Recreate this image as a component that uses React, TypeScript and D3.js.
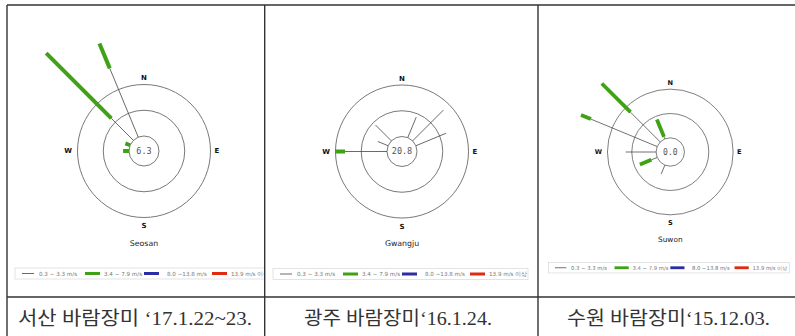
import React from 'react';
import * as d3 from 'd3';

// 16 compass sectors, clockwise from north
const directions = ['N', 'NNE', 'NE', 'ENE', 'E', 'ESE', 'SE', 'SSE', 'S', 'SSW', 'SW', 'WSW', 'W', 'WNW', 'NW', 'NNW'];

// Wind speed classes shown in the legend
const speedClasses = ['0.3 ~ 3.3 m/s', '3.4 ~ 7.9 m/s', '8.0 ~13.8 m/s', '13.9 m/s 이상'];
const classColors = ['#444444', '#3fa214', '#2c2ca6', '#e02a12'];

// Frequency (%) per direction, 0.3~3.3 m/s class
const seosanLow = [0, 0, 0, 0, 0, 0, 0, 0, 0, 0, 0, 0, 0, 0, 12.1, 28.9];
// Frequency (%) per direction, 3.4~7.9 m/s class
const seosanMid = [0, 0, 0, 0, 0, 0, 0, 0, 0, 0, 0, 0, 2.3, 2.0, 35.8, 10.5];
const seosanCalm = 6.3;

const gwangjuLow = [0, 8.6, 16.9, 12.7, 0, 0, 0, 0, 0, 0, 0, 0, 16.3, 4.3, 8.7, 0];
const gwangjuMid = [0, 0, 0, 0, 0, 0, 0, 0, 0, 0, 0, 0, 3.9, 0, 0, 0];
const gwangjuCalm = 20.8;

const suwonLow = [0, 0, 0, 0, 0, 0, 0, 0, 0, 4.0, 0, 2.6, 12.5, 29.5, 17.3, 0.9];
const suwonMid = [0, 0, 0, 0, 0, 0, 0, 0, 0, 0, 0, 5.1, 0, 4.4, 16.7, 7.7];
const suwonCalm = 0.0;

const stationNames = ['Seosan', 'Gwangju', 'Suwon'];
const captions = ['서산 바람장미 ‘17.1.22~23.', '광주 바람장미‘16.1.24.', '수원 바람장미‘15.12.03.'];

// Percent -> radius (calm circle at 15, rings every 10 %)
const rScale = d3.scaleLinear().domain([0, 20]).range([15, 66.5]);
const ringValues = [10, 20];

const W = 795;
const H = 336;

type Rose = {
  name: string;
  low: number[];
  mid: number[];
  calm: number;
  cx: number;
  cy: number;
  k: number;
  clipX0: number;
  clipX1: number;
};

const roses: Rose[] = [
  { name: stationNames[0], low: seosanLow, mid: seosanMid, calm: seosanCalm, cx: 144, cy: 151, k: 1, clipX0: 8, clipX1: 264 },
  { name: stationNames[1], low: gwangjuLow, mid: gwangjuMid, calm: gwangjuCalm, cx: 402, cy: 151.5, k: 1, clipX0: 265.5, clipX1: 537 },
  { name: stationNames[2], low: suwonLow, mid: suwonMid, calm: suwonCalm, cx: 670.3, cy: 152, k: 0.945, clipX0: 539, clipX1: 795 },
];

const angleOf = (i: number) => (i * 22.5 * Math.PI) / 180;
const px = (i: number, r: number) => r * Math.sin(angleOf(i));
const py = (i: number, r: number) => -r * Math.cos(angleOf(i));

function Legend() {
  const x0 = -129;
  const y0 = 117;
  const swatchX = [7, 70, 129, 197];
  const textX = [24, 89, 152, 216];
  return (
    <g>
      <rect x={x0} y={y0} width={255} height={11} fill="#fff" stroke="#d0d0d0" strokeWidth={0.6} />
      {speedClasses.map((label, i) => (
        <g key={label}>
          {i === 0 ? (
            <line x1={x0 + swatchX[i]} x2={x0 + swatchX[i] + 12} y1={y0 + 5.5} y2={y0 + 5.5} stroke={classColors[i]} strokeWidth={0.8} />
          ) : (
            <rect x={x0 + swatchX[i]} y={y0 + 4} width={15} height={3} fill={classColors[i]} />
          )}
          <text x={x0 + textX[i]} y={y0 + 7.5} fontSize={5.6} fill="#777" fontFamily="'DejaVu Sans', sans-serif">
            {label}
          </text>
        </g>
      ))}
    </g>
  );
}

function WindRose({ rose }: { rose: Rose }) {
  const r0 = rScale(0);
  return (
    <g transform={`translate(${rose.cx},${rose.cy}) scale(${rose.k})`}>
      <circle r={r0} fill="none" stroke="#555" strokeWidth={0.8} />
      {ringValues.map((v) => (
        <circle key={v} r={rScale(v)} fill="none" stroke="#555" strokeWidth={0.8} />
      ))}
      {directions.map((d, i) => {
        const lo = rose.low[i];
        const mi = rose.mid[i];
        const rLo = rScale(lo);
        const rMid = rScale(lo + mi);
        return (
          <g key={d}>
            {lo > 0 && (
              <line x1={px(i, r0)} y1={py(i, r0)} x2={px(i, rLo)} y2={py(i, rLo)} stroke={classColors[0]} strokeWidth={0.8} />
            )}
            {mi > 0 && (
              <line x1={px(i, rLo)} y1={py(i, rLo)} x2={px(i, rMid)} y2={py(i, rMid)} stroke={classColors[1]} strokeWidth={4} />
            )}
          </g>
        );
      })}
      <text x={0} y={0} dy="0.35em" textAnchor="middle" fontSize={8.5} fill="#555" fontFamily="'DejaVu Sans Mono', monospace">
        {rose.calm.toFixed(1)}
      </text>
      <g fontFamily="'DejaVu Sans', sans-serif" fontWeight="bold" fontSize={7} fill="#111" textAnchor="middle">
        <text x={0} y={-73} dy="0.35em">N</text>
        <text x={0} y={75} dy="0.35em">S</text>
        <text x={-76} y={0} dy="0.35em">W</text>
        <text x={73} y={0} dy="0.35em">E</text>
      </g>
      <text x={0} y={92} dy="0.35em" textAnchor="middle" fontSize={7.8} fill="#222" fontFamily="'DejaVu Sans', sans-serif">
        {rose.name}
      </text>
      <Legend />
    </g>
  );
}

const captionCenters = [135, 398, 668.5];
const captionWidths = [234, 188, 203];

export default function App() {
  return (
    <svg width={W} height={H} style={{ position: 'absolute', left: 0, top: 0, background: '#fff' }}>
      <defs>
        {roses.map((r, i) => (
          <clipPath id={`cell-${i}`} key={i}>
            <rect x={r.clipX0} y={6} width={r.clipX1 - r.clipX0} height={290} />
          </clipPath>
        ))}
      </defs>
      <rect width={W} height={H} fill="#fff" />
      {roses.map((r, i) => (
        <g key={r.name} clipPath={`url(#cell-${i})`}>
          <WindRose rose={r} />
        </g>
      ))}
      {captions.map((c, i) => (
        <text
          key={c}
          x={captionCenters[i]}
          y={325}
          textAnchor="middle"
          fontSize={19}
          fill="#333"
          textLength={captionWidths[i]}
          lengthAdjust="spacingAndGlyphs"
          fontFamily="'Liberation Serif', 'Noto Sans CJK KR', serif"
        >
          {c}
        </text>
      ))}
      <g stroke="#333" strokeWidth={1.4}>
        <line x1={7} x2={W} y1={5} y2={5} />
        <line x1={7} x2={W} y1={297} y2={297} />
        <line x1={7} x2={7} y1={5} y2={H} />
        <line x1={264.7} x2={264.7} y1={5} y2={H} />
        <line x1={538} x2={538} y1={5} y2={H} />
      </g>
    </svg>
  );
}
